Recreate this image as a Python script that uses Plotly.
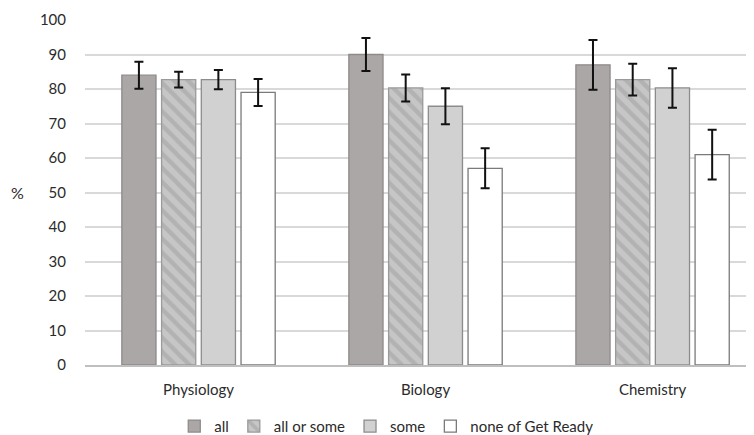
import plotly.graph_objects as go

categories = ["Physiology", "Biology", "Chemistry"]
series_names = ["all", "all or some", "some", "none of Get Ready"]
values_all = [84, 90, 87]
values_all_or_some = [82.7, 80.3, 82.7]
values_some = [82.7, 75, 80.3]
values_none = [79, 57, 61]
err_all = [3.9, 4.8, 7.2]
err_all_or_some = [2.3, 3.9, 4.6]
err_some = [2.8, 5.2, 5.7]
err_none = [3.9, 5.8, 7.2]
y_ticks = [0, 10, 20, 30, 40, 50, 60, 70, 80, 90, 100]

values = [values_all, values_all_or_some, values_some, values_none]
errors = [err_all, err_all_or_some, err_some, err_none]
fills = ["#aba7a6", "#c6c6c6", "#d1d1d1", "#ffffff"]
lines = ["#8e8a89", "#9a9a9a", "#8c8c8c", "#7a7a7a"]
patterns = [None, dict(shape="\\", fgcolor="#9e9e9e", bgcolor="#c6c6c6", size=10, solidity=0.45),
            None, None]

FONT = "Lato, Liberation Sans, sans-serif"
TXT = "#2b2b2b"

fig = go.Figure()
for name, v, e, fc, lc, pat in zip(series_names, values, errors, fills, lines, patterns):
    kw = dict(color=fc, line=dict(color=lc, width=1.3))
    if pat:
        kw["pattern"] = pat
    fig.add_trace(go.Bar(
        x=categories, y=v, name=name, marker=kw,
        error_y=dict(type="data", array=e, visible=True, color="#111111",
                     thickness=2, width=4.5),
    ))

fig.update_layout(
    width=754, height=435,
    margin=dict(l=77, r=0, t=12, b=72),
    paper_bgcolor="white", plot_bgcolor="white",
    barmode="group", bargap=0.3, bargroupgap=0.14,
    font=dict(family=FONT, size=15, color=TXT),
    showlegend=True,
    legend=dict(orientation="h", x=0.445, xanchor="center", y=-0.13, yanchor="top",
                font=dict(family=FONT, size=15, color=TXT),
                itemwidth=30, traceorder="normal"),
    annotations=[dict(text="%", xref="paper", yref="paper", x=-0.1, y=0.5,
                      xanchor="center", yanchor="middle", showarrow=False,
                      font=dict(family=FONT, size=16, color=TXT))],
)
fig.update_yaxes(range=[0, 100], tickvals=y_ticks, showgrid=True,
                 gridcolor="#d9d9d9", gridwidth=1.5, zeroline=False,
                 showline=False, ticklabelstandoff=18, automargin=False)
fig.update_xaxes(range=[-0.5, 2.482], showline=True, linecolor="#bfbfbf", linewidth=1.5,
                 showgrid=False, ticks="", ticklabelstandoff=10, automargin=False)

fig.write_html("out.html")
